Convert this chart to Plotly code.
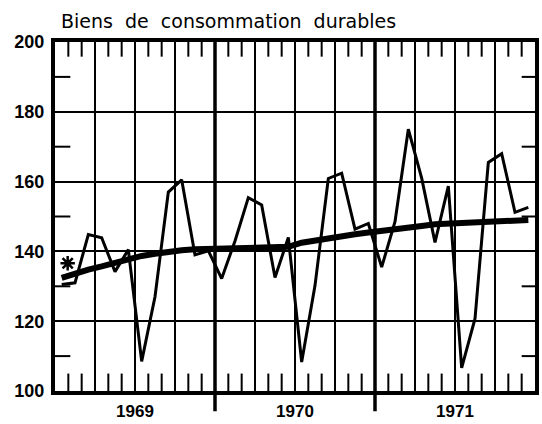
import plotly.graph_objects as go

# ---- data ----
years = ["1969", "1970", "1971"]
raw_values = [130.5, 131.0, 144.8, 143.9, 134.2, 140.5, 108.5, 127.0, 157.0, 160.5, 139.0, 140.2,
              132.2, 143.0, 155.4, 153.3, 132.5, 144.0, 108.3, 130.2, 160.9, 162.4, 146.4, 148.0,
              135.5, 148.5, 175.0, 161.0, 142.6, 158.7, 106.6, 120.7, 165.5, 168.0, 151.2, 152.6]
trend_values = [132.4, 133.8, 134.8, 135.7, 136.7, 137.8, 138.7, 139.3, 139.9, 140.3, 140.6, 140.7,
                140.8, 140.9, 141.0, 141.1, 141.2, 141.3, 142.5, 143.2, 143.8, 144.4, 144.9, 145.4,
                145.8, 146.1, 146.6, 147.3, 147.8, 148.0, 148.2, 148.3, 148.5, 148.7, 148.8, 149.0]
star_month = 0.95
star_value = 136.6
title_text = "Biens  de  consommation  durables"
y_tick_values = [100, 120, 140, 160, 180, 200]

n_months = len(raw_values)
x_months = [i + 0.5 for i in range(n_months)]
year_centers = [12 * i + 6 for i in range(len(years))]

BLACK = "#000000"
fig = go.Figure()

fig.add_trace(go.Scatter(x=x_months, y=raw_values, mode="lines",
                         line=dict(color=BLACK, width=3), hoverinfo="skip"))
fig.add_trace(go.Scatter(x=x_months, y=trend_values, mode="lines",
                         line=dict(color=BLACK, width=6), hoverinfo="skip"))
fig.add_trace(go.Scatter(x=[star_month], y=[star_value], mode="markers",
                         marker=dict(symbol="asterisk-open", size=12, color=BLACK,
                                     line=dict(color=BLACK, width=2.5)),
                         hoverinfo="skip"))

shapes = []
# vertical quarter grid lines and year lines
for m in range(3, n_months, 3):
    if m % 12 == 0:
        shapes.append(dict(type="line", xref="x", yref="paper", x0=m, x1=m, y0=-0.058, y1=1,
                           line=dict(color=BLACK, width=3.5), layer="below"))
    else:
        shapes.append(dict(type="line", xref="x", yref="y", x0=m, x1=m, y0=100, y1=200,
                           line=dict(color=BLACK, width=2), layer="below"))
# monthly inner ticks top and bottom
for m in range(1, n_months):
    if m % 3 != 0:
        shapes.append(dict(type="line", xref="x", yref="y", x0=m, x1=m, y0=100, y1=105,
                           line=dict(color=BLACK, width=2), layer="below"))
        shapes.append(dict(type="line", xref="x", yref="y", x0=m, x1=m, y0=200, y1=195.8,
                           line=dict(color=BLACK, width=2), layer="below"))
# minor y ticks on left and right
for v in range(110, 200, 20):
    shapes.append(dict(type="line", xref="x", yref="y", x0=0, x1=1.15, y0=v, y1=v,
                       line=dict(color=BLACK, width=2), layer="below"))
    shapes.append(dict(type="line", xref="x", yref="y", x0=36, x1=35.0, y0=v, y1=v,
                       line=dict(color=BLACK, width=2), layer="below"))

fig.update_layout(
    width=542, height=424,
    margin=dict(l=55, r=3, t=42, b=24),
    paper_bgcolor="white", plot_bgcolor="white",
    showlegend=False,
    shapes=shapes,
    annotations=[dict(text=title_text, xref="paper", yref="paper", x=0.008, y=1.022,
                      xanchor="left", yanchor="bottom", showarrow=False,
                      font=dict(family="DejaVu Sans", size=19, color=BLACK))],
)
fig.update_xaxes(range=[0, 36], tickvals=year_centers, ticktext=years,
                 showgrid=False, zeroline=False, ticks="", ticklabelstandoff=2,
                 showline=True, linecolor=BLACK, linewidth=4, mirror=True,
                 tickfont=dict(family="Liberation Sans", size=17, color=BLACK, weight="bold"))
fig.update_yaxes(range=[100, 200], tickvals=y_tick_values,
                 showgrid=True, gridcolor=BLACK, gridwidth=2, zeroline=False,
                 ticks="", ticklabelstandoff=3,
                 showline=True, linecolor=BLACK, linewidth=4, mirror=True,
                 tickfont=dict(family="Liberation Sans", size=18, color=BLACK, weight="bold"))

fig.write_html("out.html", config={"displayModeBar": False},
               post_script="document.body.style.margin='0';document.body.style.overflow='hidden';")
